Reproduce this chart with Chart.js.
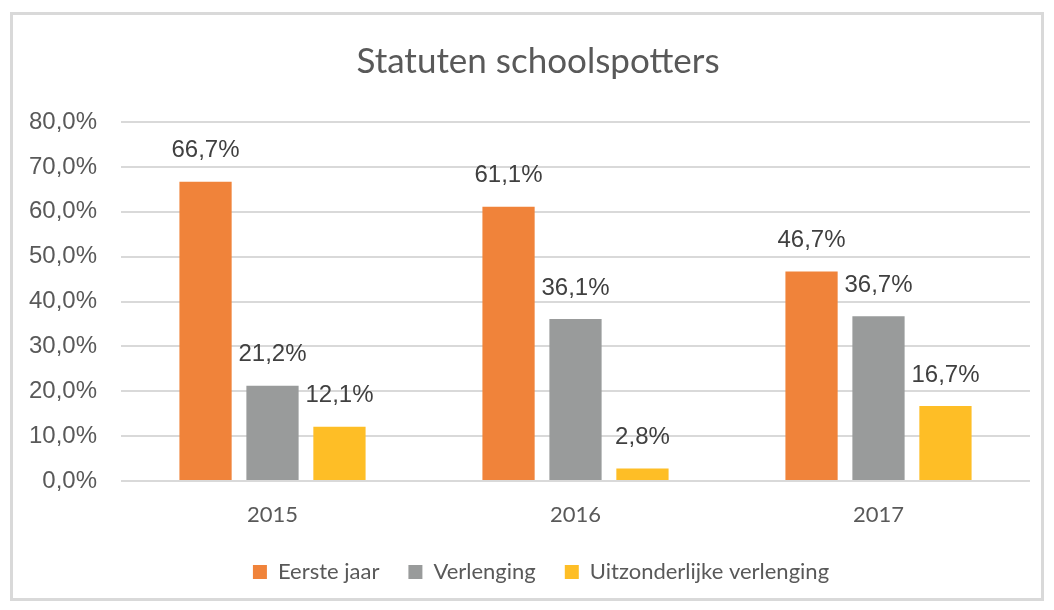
<!DOCTYPE html>
<html>
<head>
<meta charset="utf-8">
<script src="https://cdn.jsdelivr.net/npm/chart.js@4"></script>
<style>
  body { margin: 0; background: #fff; }
  #wrap { position: relative; width: 1054px; height: 610px; }
</style>
</head>
<body>
<div id="wrap"><canvas id="grafico"></canvas></div>
<script>
// dados do gráfico
var anos = ['2015', '2016', '2017']
var eersteJaar = [66.7, 61.1, 46.7]
var verlenging = [21.2, 36.1, 36.7]
var uitzonderlijk = [12.1, 2.8, 16.7]
var ticksY = [0, 10, 20, 30, 40, 50, 60, 70, 80]

function formataPct(v) {
  return v.toFixed(1).replace('.', ',') + '%'
}

// moldura cinza em volta do gráfico
const moldura = {
  id: 'moldura',
  beforeDraw(chart) {
    const c = chart.ctx
    c.save()
    c.fillStyle = '#fff'
    c.fillRect(0, 0, chart.width, chart.height)
    c.strokeStyle = '#D9D9D9'
    c.lineWidth = 3
    c.strokeRect(11.5, 13.5, 1031, 586)
    c.restore()
  }
}

// centraliza título e legenda um pouco mais à direita, como no original
const centraliza = {
  id: 'centraliza',
  afterLayout(chart) {
    if (chart.titleBlock) chart.titleBlock.left = 46
    if (chart.legend) chart.legend.left = 52
  }
}

// rótulos em cima das barras
const rotulos = {
  id: 'rotulos',
  afterDatasetsDraw(chart) {
    const c = chart.ctx
    c.save()
    c.font = '24px "Liberation Sans", Arial, sans-serif'
    c.fillStyle = '#404040'
    c.textAlign = 'center'
    c.textBaseline = 'bottom'
    chart.data.datasets.forEach((ds, i) => {
      chart.getDatasetMeta(i).data.forEach((bar, j) => {
        c.fillText(formataPct(ds.data[j]), bar.x, bar.y - 19)
      })
    })
    c.restore()
  }
}

const ctx = document.getElementById('grafico')

let grafico = new Chart(ctx, {
  type: 'bar',
  data: {
    labels: anos,
    datasets: [
      { label: 'Eerste jaar', data: eersteJaar, backgroundColor: '#F0833A' },
      { label: 'Verlenging', data: verlenging, backgroundColor: '#999B9B' },
      { label: 'Uitzonderlijke verlenging', data: uitzonderlijk, backgroundColor: '#FEBE26' }
    ]
  },
  options: {
    responsive: true,
    maintainAspectRatio: false,
    animation: false,
    categoryPercentage: 0.663,
    barPercentage: 0.78,
    layout: { padding: { left: 0, right: 24, top: 0, bottom: 17 } },
    plugins: {
      title: {
        display: true,
        text: 'Statuten schoolspotters',
        color: '#595959',
        font: { family: 'Lato', size: 35, weight: 'normal' },
        padding: { top: 41, bottom: 39 }
      },
      legend: {
        position: 'bottom',
        labels: {
          color: '#595959',
          font: { family: 'Lato', size: 22 },
          boxWidth: 14,
          boxHeight: 14,
          padding: 29
        }
      },
      tooltip: { enabled: false }
    },
    scales: {
      x: {
        afterFit: (s) => { s.height = 51 },
        grid: { display: false },
        border: { display: false },
        ticks: { color: '#595959', padding: 13, font: { family: 'Lato', size: 22 } }
      },
      y: {
        min: 0,
        max: 80,
        afterBuildTicks: (s) => { s.ticks = ticksY.map(v => ({ value: v })) },
        afterFit: (s) => { s.width = 121 },
        grid: { color: '#D9D9D9', lineWidth: 2, drawTicks: false },
        border: { display: false },
        ticks: {
          color: '#595959',
          padding: 24,
          font: { family: 'Liberation Sans', size: 24 },
          callback: (v) => formataPct(v)
        }
      }
    }
  },
  plugins: [moldura, centraliza, rotulos]
})
</script>
</body>
</html>
